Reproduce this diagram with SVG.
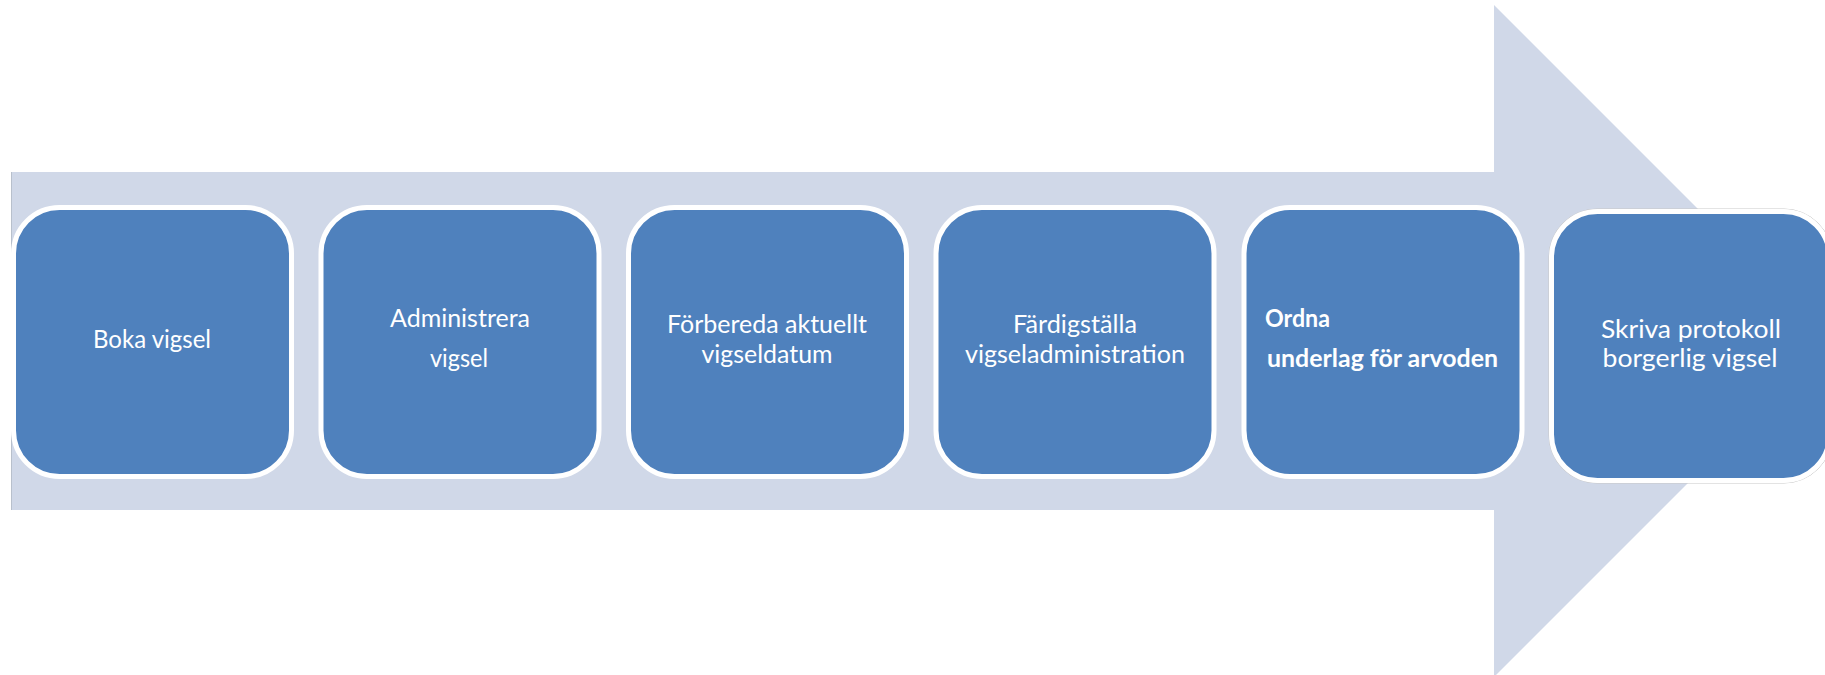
<svg xmlns="http://www.w3.org/2000/svg" width="1825" height="675" viewBox="0 0 1825 675">
  <style>
    .box { fill: #4F81BD; stroke: #FFFFFF; stroke-width: 5; }
    .lbl { fill: #FFFFFF; font-family: Lato, "Open Sans", "Liberation Sans", sans-serif; font-size: 25px; }
    .c { text-anchor: middle; }
    .b { font-weight: bold; }
  </style>
  <rect width="1825" height="675" fill="#FFFFFF"/>
  <g id="arrow">
    <polygon points="11,172 1494,172 1494,5 1830,341 1494,677 1494,510 11,510" fill="#D0D8E8"/>
    <line x1="11.5" y1="172" x2="11.5" y2="510" stroke="#B8C0CC" stroke-width="1"/>
  </g>
  <g id="connectors"></g>
  <g id="node1">
    <rect class="box" x="13.5" y="207.5" width="278" height="269" rx="46"/>
    <text class="lbl c" x="152" y="348" textLength="118" lengthAdjust="spacingAndGlyphs">Boka vigsel</text>
  </g>
  <g id="node2">
    <rect class="box" x="321" y="207.5" width="278" height="269" rx="46"/>
    <text class="lbl c" x="460" y="327" textLength="140" lengthAdjust="spacingAndGlyphs">Administrera</text>
    <text class="lbl c" x="459" y="367" textLength="58" lengthAdjust="spacingAndGlyphs">vigsel</text>
  </g>
  <g id="node3">
    <rect class="box" x="628.5" y="207.5" width="278" height="269" rx="46"/>
    <text class="lbl c" x="767" y="333" textLength="200" lengthAdjust="spacingAndGlyphs">Förbereda aktuellt</text>
    <text class="lbl c" x="767" y="363" textLength="131" lengthAdjust="spacingAndGlyphs">vigseldatum</text>
  </g>
  <g id="node4">
    <rect class="box" x="936" y="207.5" width="278" height="269" rx="46"/>
    <text class="lbl c" x="1075" y="333" textLength="124" lengthAdjust="spacingAndGlyphs">Färdigställa</text>
    <text class="lbl c" x="1075" y="363" textLength="220" lengthAdjust="spacingAndGlyphs">vigseladministration</text>
  </g>
  <g id="node5">
    <rect class="box" x="1244" y="207.5" width="278" height="269" rx="46"/>
    <text class="lbl b" x="1265" y="327" textLength="65" lengthAdjust="spacingAndGlyphs">Ordna</text>
    <text class="lbl b" x="1267" y="367" textLength="231" lengthAdjust="spacingAndGlyphs">underlag för arvoden</text>
  </g>
  <g id="node6">
    <rect x="1549" y="209" width="283" height="274" rx="48" fill="none" stroke="#C8C8C8" stroke-width="1"/>
    <rect class="box" x="1551.5" y="211.5" width="278" height="269" rx="46"/>
    <text class="lbl c" x="1691" y="338" textLength="180" lengthAdjust="spacingAndGlyphs">Skriva protokoll</text>
    <text class="lbl c" x="1690" y="367" textLength="175" lengthAdjust="spacingAndGlyphs">borgerlig vigsel</text>
  </g>
</svg>
